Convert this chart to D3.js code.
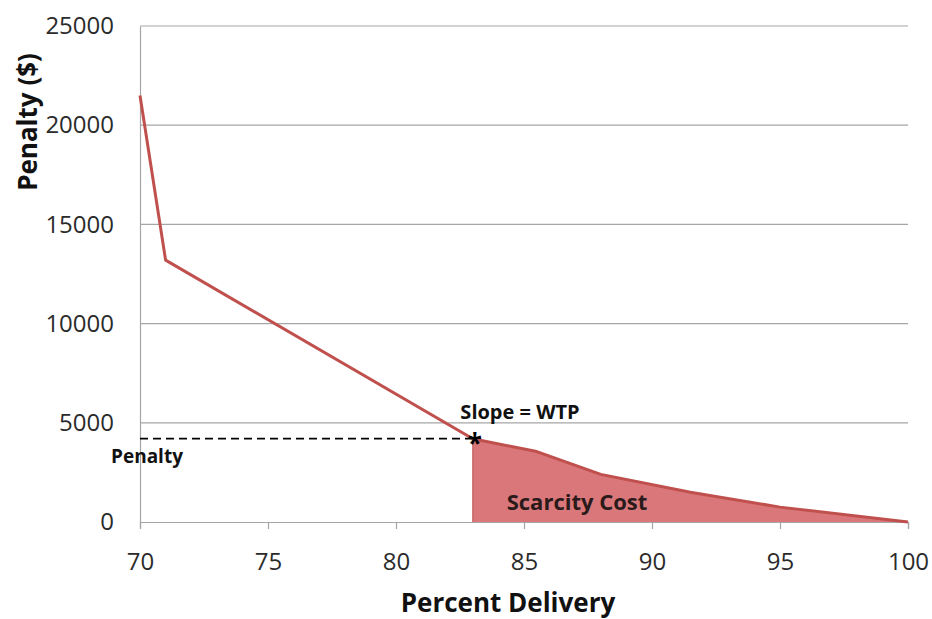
<!DOCTYPE html>
<html>
<head>
<meta charset="utf-8">
<script src="https://cdn.jsdelivr.net/npm/d3@7"></script>
<style>
  html, body { margin: 0; padding: 0; background: #fff; }
  svg { display: block; }
  text { font-family: "Open Sans", "Noto Sans", sans-serif; }
</style>
</head>
<body>
<svg id="chart" width="932" height="619"></svg>
<script>
// Penalty curve: percent delivery vs penalty ($)
const delivery = [70, 71, 83, 85.5, 88, 91.5, 95, 100];
const penalty  = [21500, 13200, 4200, 3550, 2400, 1500, 750, 0];

// Operating point where the dashed penalty line meets the curve
const opDelivery = 83;
const opPenalty = 4200;

const xTicks = [70, 75, 80, 85, 90, 95, 100];
const yTicks = [0, 5000, 10000, 15000, 20000, 25000];

const svg = d3.select("#chart");
const plotLeft = 140, plotRight = 908, plotTop = 26, plotBottom = 522;

const x = d3.scaleLinear().domain([70, 100]).range([plotLeft, plotRight]);
const y = d3.scaleLinear().domain([0, 25000]).range([plotBottom, plotTop]);

const pts = delivery.map((d, i) => ({ x: d, y: penalty[i] }));

// Horizontal gridlines
svg.append("g")
  .selectAll("line")
  .data(yTicks.filter(t => t > 0))
  .join("line")
  .attr("x1", plotLeft).attr("x2", plotRight)
  .attr("y1", d => y(d)).attr("y2", d => y(d))
  .attr("stroke", "#a6a6a6").attr("stroke-width", 1.2);

// Shaded scarcity cost area (from the operating point to full delivery)
const areaPts = pts.filter(p => p.x >= opDelivery);
svg.append("path")
  .datum(areaPts)
  .attr("d", d3.area().x(d => x(d.x)).y0(y(0)).y1(d => y(d.y)))
  .attr("fill", "#d9777a");

// Y axis (line only, labels on the left)
const yAxis = svg.append("g")
  .attr("transform", `translate(${plotLeft},0)`)
  .call(d3.axisLeft(y).tickValues(yTicks).tickSize(0).tickPadding(26).tickFormat(d3.format("d")));
yAxis.select(".domain").attr("stroke", "#a6a6a6").attr("stroke-width", 1.2);
yAxis.selectAll("text")
  .attr("font-size", 24).attr("fill", "#2b2b2b")
  .attr("font-family", "'Open Sans', sans-serif");

// X axis
const xAxis = svg.append("g")
  .attr("transform", `translate(0,${plotBottom})`)
  .call(d3.axisBottom(x).tickValues(xTicks).tickSize(7).tickPadding(24).tickFormat(d3.format("d")));
xAxis.select(".domain").attr("stroke", "#a6a6a6").attr("stroke-width", 1.2);
xAxis.selectAll(".tick line").attr("stroke", "#a6a6a6").attr("stroke-width", 1.2);
xAxis.selectAll("text")
  .attr("font-size", 24).attr("fill", "#2b2b2b")
  .attr("font-family", "'Open Sans', sans-serif");

// Penalty curve
svg.append("path")
  .datum(pts)
  .attr("d", d3.line().x(d => x(d.x)).y(d => y(d.y)))
  .attr("fill", "none")
  .attr("stroke", "#c0504d")
  .attr("stroke-width", 3)
  .attr("stroke-linejoin", "round");

// Vertical edge of the shaded area
svg.append("line")
  .attr("x1", x(opDelivery)).attr("x2", x(opDelivery))
  .attr("y1", y(opPenalty)).attr("y2", y(0))
  .attr("stroke", "#c0504d").attr("stroke-width", 1);

// Dashed penalty level
svg.append("line")
  .attr("x1", plotLeft).attr("x2", x(opDelivery))
  .attr("y1", y(opPenalty)).attr("y2", y(opPenalty))
  .attr("stroke", "#000").attr("stroke-width", 1.6)
  .attr("stroke-dasharray", "8,5");

// Operating point marker
svg.append("text")
  .attr("x", x(opDelivery) + 2).attr("y", y(opPenalty) + 14)
  .attr("text-anchor", "middle")
  .attr("font-size", 26).attr("font-weight", "bold")
  .text("*");

// Annotations
svg.append("text")
  .attr("x", 520).attr("y", 419)
  .attr("text-anchor", "middle")
  .attr("font-size", 20).attr("font-weight", "bold").attr("fill", "#111")
  .text("Slope = WTP");

svg.append("text")
  .attr("x", 111).attr("y", 463)
  .attr("font-size", 19).attr("font-weight", "bold").attr("fill", "#111")
  .text("Penalty");

svg.append("text")
  .attr("x", 577).attr("y", 510)
  .attr("text-anchor", "middle")
  .attr("font-size", 22).attr("font-weight", "bold").attr("fill", "#2a1a1a")
  .text("Scarcity Cost");

// Axis titles
svg.append("text")
  .attr("x", 508).attr("y", 612)
  .attr("text-anchor", "middle")
  .attr("font-size", 26).attr("font-weight", "bold").attr("fill", "#111")
  .text("Percent Delivery");

svg.append("text")
  .attr("transform", "translate(37,122) rotate(-90)")
  .attr("text-anchor", "middle")
  .attr("font-size", 26).attr("font-weight", "bold").attr("fill", "#111")
  .text("Penalty ($)");
</script>
</body>
</html>
